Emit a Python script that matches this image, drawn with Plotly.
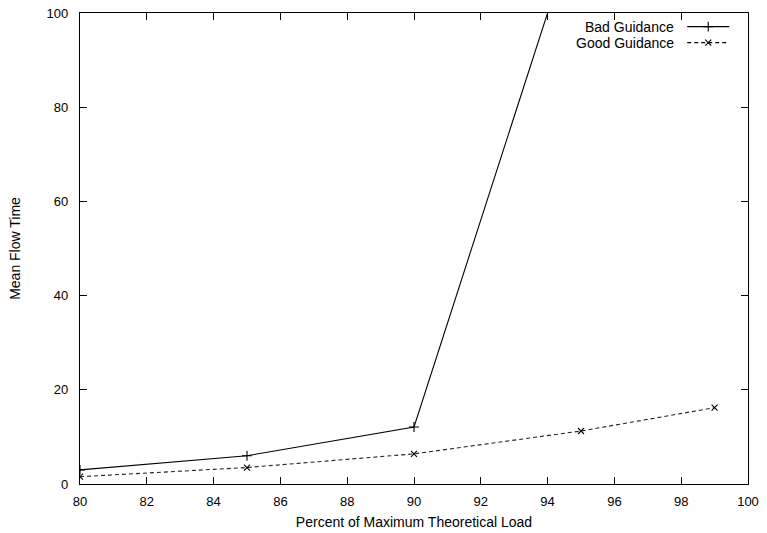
import plotly.graph_objects as go

# Percent of maximum theoretical load vs. mean flow time
load_bad = [80, 85, 90, 95]
flow_bad = [3.0, 6.0, 12.1, 122.0]

load_good = [80, 85, 90, 95, 99]
flow_good = [1.55, 3.5, 6.4, 11.25, 16.2]

x_ticks = [80, 82, 84, 86, 88, 90, 92, 94, 96, 98, 100]
y_ticks = [0, 20, 40, 60, 80, 100]

FONT = "Liberation Sans, Arial, sans-serif"

fig = go.Figure()

fig.add_trace(go.Scatter(
    x=load_bad, y=flow_bad, mode="lines+markers", name="Bad Guidance",
    line=dict(color="black", width=1.1),
    marker=dict(symbol="cross-thin", size=7, line=dict(color="black", width=1.1)),
    showlegend=False, cliponaxis=True,
))
fig.add_trace(go.Scatter(
    x=load_good, y=flow_good, mode="lines+markers", name="Good Guidance",
    line=dict(color="#222222", width=1.1, dash="4px,3px"),
    marker=dict(symbol="x-thin", size=6, line=dict(color="black", width=1.1)),
    showlegend=False, cliponaxis=True,
))

# Key in the upper right corner: right-aligned text followed by line samples
legend_rows = [("Bad Guidance", 0.971, "solid", "cross-thin", 7),
               ("Good Guidance", 0.937, "4px,3px", "x-thin", 6)]
for label, yy, dash, sym, size in legend_rows:
    fig.add_annotation(x=0.892, y=yy, xref="paper", yref="paper", text=label,
                       showarrow=False, xanchor="right", yanchor="middle",
                       font=dict(family=FONT, size=14, color="black"))
    fig.add_trace(go.Scatter(
        x=[0.909, 0.9405, 0.972], y=[yy, yy, yy], xaxis="x2", yaxis="y2",
        mode="lines+markers", showlegend=False, hoverinfo="skip",
        line=dict(color="black", width=1.1, dash=dash),
        marker=dict(symbol=sym, size=size, line=dict(color="black", width=1.1),
                    opacity=[0, 1, 0]),
    ))

axis_common = dict(
    showgrid=False, zeroline=False, showline=True, linecolor="black", linewidth=1.2,
    mirror="allticks", ticks="inside", ticklen=7, tickcolor="black", tickwidth=1,
    tickfont=dict(family=FONT, size=13, color="black"), automargin=False,
)

fig.update_layout(
    template="none",
    width=767, height=533,
    margin=dict(l=80, r=19, t=13, b=49),
    paper_bgcolor="white", plot_bgcolor="white",
    xaxis=dict(range=[80, 100], tickvals=x_ticks, ticklabelstandoff=5,
               title=dict(text="Percent of Maximum Theoretical Load", standoff=9,
                          font=dict(family=FONT, size=14, color="black")),
               **axis_common),
    yaxis=dict(range=[0, 100], tickvals=y_ticks, ticklabelstandoff=8,
               title=dict(text="Mean Flow Time", standoff=22,
                          font=dict(family=FONT, size=14, color="black")),
               **axis_common),
    xaxis2=dict(range=[0, 1], domain=[0, 1], overlaying="x", visible=False),
    yaxis2=dict(range=[0, 1], domain=[0, 1], overlaying="y", visible=False),
)

fig.write_html("out.html")
